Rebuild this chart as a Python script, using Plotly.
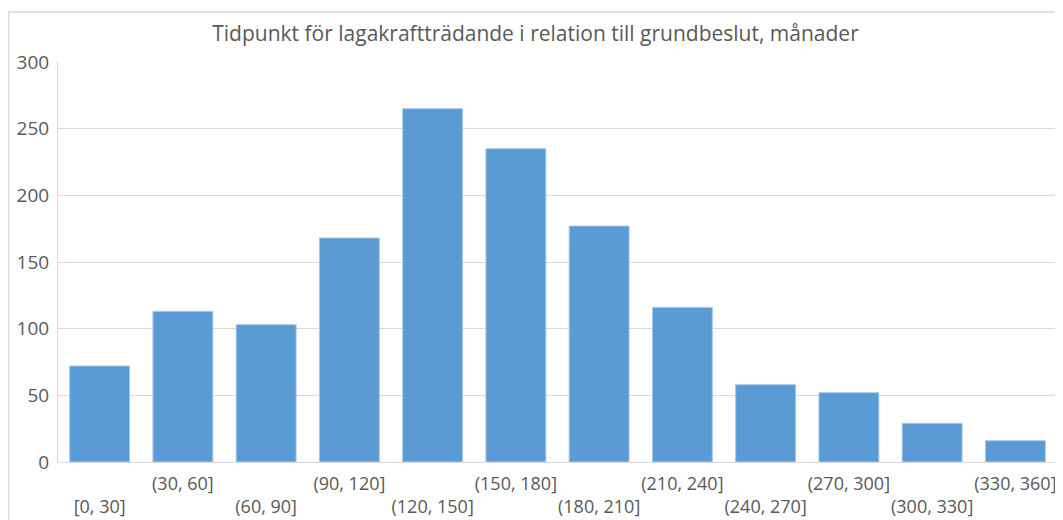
import plotly.graph_objects as go

categories = ["[0, 30]", "(30, 60]", "(60, 90]", "(90, 120]", "(120, 150]", "(150, 180]",
              "(180, 210]", "(210, 240]", "(240, 270]", "(270, 300]", "(300, 330]", "(330, 360]"]
counts = [72, 113, 103, 168, 265, 235, 177, 116, 58, 52, 29, 16]
y_ticks = [0, 50, 100, 150, 200, 250, 300]
title_text = "Tidpunkt för lagakraftträdande i relation till grundbeslut, månader"

# staggered labels: even index on second row
tick_text = [("<br>" + c) if i % 2 == 0 else c for i, c in enumerate(categories)]

FONT = "Open Sans"
GRAY = "#595959"

# page body has an 8px margin, so the figure is sized to fit inside 1063x520
fig = go.Figure(go.Bar(
    x=categories, y=counts,
    marker=dict(color="#5B9BD5", line=dict(color="#A9C8E8", width=1)),
    width=0.72,
))

fig.update_layout(
    width=1055, height=512,
    margin=dict(l=50, r=6, t=54, b=58, autoexpand=False),
    paper_bgcolor="white", plot_bgcolor="white",
    showlegend=False,
    title=dict(text=title_text, x=0.5, xanchor="center", y=0.95, yanchor="middle",
               font=dict(family=FONT, size=21, color=GRAY)),
    font=dict(family=FONT, size=18, color=GRAY),
    xaxis=dict(tickmode="array", tickvals=categories, ticktext=tick_text,
               showgrid=False, showline=False, ticks="", tickangle=0, automargin=False,
               ticklabelstandoff=9,
               tickfont=dict(family=FONT, size=18, color=GRAY)),
    yaxis=dict(range=[0, 300], tickvals=y_ticks, showgrid=True, gridcolor="#D9D9D9",
               gridwidth=1, zeroline=True, zerolinecolor="#D9D9D9", zerolinewidth=1,
               showline=True, linecolor="#D9D9D9", linewidth=1, ticks="", ticklen=0,
               automargin=False, ticklabelstandoff=4,
               tickfont=dict(family=FONT, size=19, color=GRAY)),
    bargap=0.28,
)

# chart area border (extends past the right/bottom edges like in the source crop)
fig.add_shape(type="line", xref="paper", yref="paper",
              x0=-49.5/999, x1=1.2, y0=(454-4)/400, y1=(454-4)/400,
              line=dict(color="#D9D9D9", width=1.5))
fig.add_shape(type="line", xref="paper", yref="paper",
              x0=-49.5/999, x1=-49.5/999, y0=(454-4)/400, y1=-0.3,
              line=dict(color="#D9D9D9", width=1.5))

fig.write_html("out.html")
